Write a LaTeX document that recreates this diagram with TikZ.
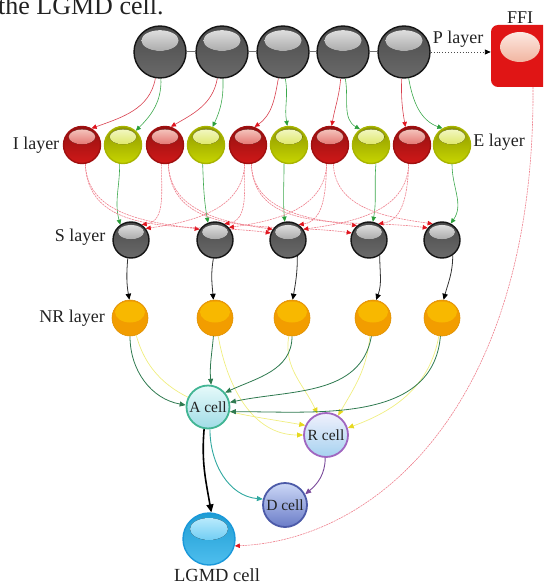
\documentclass[tikz,border=0pt]{standalone}
\usepackage{fontspec}
\setmainfont{Liberation Serif}
\usetikzlibrary{arrows.meta}
\pgfdeclarelayer{bg}
\pgfsetlayers{bg,main}

% sphere colours
\definecolor{pbody}{HTML}{6A6A6A}
\definecolor{pshine}{HTML}{E8E8E8}
\definecolor{prim}{HTML}{151515}
\definecolor{ibody}{HTML}{D01818}
\definecolor{ishine}{HTML}{F7D0C8}
\definecolor{irim}{HTML}{A01010}
\definecolor{ebody}{HTML}{C8D600}
\definecolor{eshine}{HTML}{F5F9D0}
\definecolor{erim}{HTML}{A8B400}
\definecolor{nrbody}{HTML}{F29D00}
\definecolor{nrtop}{HTML}{F8B800}
\definecolor{arim}{HTML}{42B594}
\definecolor{atop}{HTML}{E6FAFA}
\definecolor{abot}{HTML}{A0DCE6}
\definecolor{rrim}{HTML}{A066C0}
\definecolor{rtop}{HTML}{F0F0FC}
\definecolor{rbot}{HTML}{A6D2F0}
\definecolor{drim}{HTML}{4C5AA8}
\definecolor{dtop}{HTML}{CCD8F6}
\definecolor{dbot}{HTML}{6A7CC8}
\definecolor{lbody}{HTML}{22AEEA}
\definecolor{lshine}{HTML}{C8F0FE}
\definecolor{lrim}{HTML}{1A98DA}
\definecolor{ffired}{HTML}{E01515}
\definecolor{ffitop}{HTML}{FFF4F0}
\definecolor{ffibot}{HTML}{E88A6A}
% connector colours
\definecolor{linered}{HTML}{D8404E}
\definecolor{linepink}{HTML}{EE7F8C}
\definecolor{tipred}{HTML}{E0141E}
\definecolor{linegreen}{HTML}{3CA84C}
\definecolor{tipgreen}{HTML}{2A9E3A}
\definecolor{adark}{HTML}{2F7A50}
\definecolor{yline}{HTML}{F0EE80}
\definecolor{ytip}{HTML}{E6D81E}
\definecolor{tealline}{HTML}{30A8A0}
\definecolor{purpline}{HTML}{7A4A9A}
\definecolor{ink}{HTML}{222222}

\tikzset{
  glossy/.style n args={4}{circle, inner sep=0pt, minimum size=#1pt, line width=1.4pt, draw=#3,
    top color=#2!70!black, bottom color=#2,
    path picture={\fill[top color=#4, bottom color=#2]
      ([yshift=-0.28*#1pt]path picture bounding box.north)
      ellipse [x radius=0.36*#1pt, y radius=0.2*#1pt];}},
  pball/.style={glossy={52}{pbody}{prim}{pshine}},
  sball/.style={glossy={36}{pbody}{prim}{pshine}},
  iball/.style={glossy={37}{ibody}{irim}{ishine}},
  eball/.style={glossy={37}{ebody}{erim}{eshine}},
  lball/.style={circle, inner sep=0pt, minimum size=52pt, line width=1.4pt, draw=lrim,
    top color=lbody!90!black, bottom color=lbody!80!white,
    path picture={\fill[top color=lshine, bottom color=lbody]
      ([yshift=-16pt]path picture bounding box.north)
      ellipse [x radius=19pt, y radius=11pt];}},
  nrball/.style={circle, inner sep=0pt, minimum size=36pt, fill=nrbody,
    draw=nrbody!92!black, line width=.6pt,
    path picture={\fill[nrtop] ([yshift=-12pt]path picture bounding box.north)
      ellipse [x radius=15pt, y radius=10.5pt];}},
  cell/.style n args={4}{circle, inner sep=0pt, minimum size=#1pt, line width=1.8pt,
    draw=#2, top color=#3, bottom color=#4,
    font=\fontsize{15.5}{17}\selectfont, text=ink},
  lbl/.style={font=\fontsize{18}{21}\selectfont, text=ink, inner sep=0pt},
  tipR/.style={-{Triangle[length=5pt,width=4.5pt,color=tipred]}},
  exc/.style={draw=linered, line width=.6pt, tipR},
  inh/.style={draw=linepink, line width=.6pt, dash pattern=on 2pt off .8pt, tipR},
  exg/.style={draw=linegreen, line width=.6pt, -{Triangle[length=5pt,width=4.5pt,color=tipgreen]}},
  blk/.style={draw=black!80, line width=.8pt, -{Triangle[length=6pt,width=5.5pt,color=black]}},
  agr/.style={draw=adark, line width=.8pt, -{Triangle[length=6pt,width=5pt,color=adark]}},
  ylw/.style={draw=yline, line width=.7pt, -{Triangle[length=6pt,width=5pt,color=ytip]}},
}

\begin{document}
\begin{tikzpicture}[x=1pt,y=1pt]
\useasboundingbox (0,0) rectangle (543,-585);
\clip (0,0) rectangle (543,-585);

% caption line above the figure
\node[anchor=base west, inner sep=0pt, font=\fontsize{26}{30}\selectfont, text=ink] (cap) at (-2,-15) {the LGMD cell.};

% P layer
\foreach \n/\x in {1/160,2/222,3/283,4/343,5/404}
  \node[pball] (P\n) at (\x,-52) {};

% FFI cell
\node[rectangle, rounded corners=7pt, minimum width=84pt, minimum height=62pt, fill=ffired,
  path picture={\fill[top color=ffitop, bottom color=ffibot]
    ([xshift=-13pt,yshift=9pt]path picture bounding box.center)
    ellipse [x radius=20pt, y radius=15pt];}] (FFI) at (533,-56) {};
\node[lbl] (ffilbl) at (520,-18) {FFI};
\node[lbl] (plbl) at (458,-39) {P layer};

% I and E layers
\foreach \n/\x in {1/82,2/165,3/248,4/330,5/412}
  \node[iball] (I\n) at (\x,-145) {};
\foreach \n/\x in {1/123,2/206,3/289,4/371,5/452}
  \node[eball] (E\n) at (\x,-145) {};
\node[lbl] (ilbl) at (36,-145) {I layer};
\node[lbl] (elbl) at (499,-142) {E layer};

% S layer
\foreach \n/\x in {1/131,2/215,3/288,4/369,5/442}
  \node[sball] (S\n) at (\x,-240) {};
\node[lbl] (slbl) at (80,-237) {S layer};

% NR layer
\foreach \n/\x in {1/130,2/215,3/292,4/373,5/442}
  \node[nrball] (NR\n) at (\x,-318) {};
\node[lbl] (nrlbl) at (72,-318) {NR layer};

% output cells
\node[cell={43}{arim}{atop}{abot}] (A) at (208,-407) {A cell};
\node[cell={44}{rrim}{rtop}{rbot}] (R) at (326,-435) {R cell};
\node[cell={44}{drim}{dtop}{dbot}] (D) at (285,-505) {D cell};
\node[lball] (LGMD) at (209,-539) {};
\node[lbl, font=\fontsize{18.5}{21}\selectfont] (lgmdlbl) at (217,-575) {LGMD cell};

\begin{pgfonlayer}{bg}
% photoreceptor chain and its output to FFI
\draw[black!55, line width=1pt] (P1) -- (P2) -- (P3) -- (P4) -- (P5);
\draw[black!70, dotted, line width=.9pt, -{Triangle[length=6pt,width=5pt,color=black]}]
  (P5.east) -- (P5.east -| FFI.west);

% P -> I (red) and P -> E (green)
\draw[exc] (P1.-100) to[out=-100,in=20] (I1.60);
\draw[exg] (P1.-88) to[out=-88,in=45] (E1.48);
\draw[exc] (P2.-100) to[out=-100,in=30] (I2.72);
\draw[exg] (P2.-88) to[out=-88,in=65] (E2.70);
\draw[exc] (P3.-100) to[out=-100,in=35] (I3.70);
\draw[exg] (P3.-85) to[out=-80,in=100] (E3.95);
\draw[exc] (P4.-95) to[out=-95,in=80] (I4.85);
\draw[exg] (P4.-85) to[out=-80,in=150] (E4.125);
\draw[exc] (P5.-95) to[out=-92,in=100] (I5.110);
\draw[exg] (P5.-80) to[out=-80,in=160] (E5.120);

% E -> S
\draw[exg] (E1.-100) to[out=-90,in=105] (S1.125);
\draw[exg] (E2.-100) to[out=-88,in=100] (S2.112);
\draw[exg] (E3.-105) to[out=-90,in=95] (S3.100);
\draw[exg] (E4.-75) to[out=-95,in=80] (S4.78);
\draw[exg] (E5.-90) to[out=-90,in=55] (S5.62);

% I -> neighbouring S (lateral inhibition)
\foreach \k/\j/\a in {1/2/145,1/3/158,2/3/145,2/4/158,3/4/130,3/5/140,4/5/120}
  \draw[inh] (I\k.-80) to[out=-88,in=172] (S\j.\a);
\foreach \k/\j/\a in {2/1/55,3/1/38,3/2/60,4/2/42,4/3/55,5/3/35,5/4/60}
  \draw[inh] (I\k.-100) to[out=-92,in=8] (S\j.\a);

% S -> NR
\draw[blk] (S1.-100) to[out=-95,in=100] (NR1.92);
\draw[blk] (S2.-95) to[out=-100,in=95] (NR2.95);
\draw[blk] (S3.-60) to[out=-90,in=80] (NR3.88);
\draw[blk] (S4.-55) to[out=-90,in=70] (NR4.80);
\draw[blk] (S5.-55) to[out=-90,in=75] (NR5.85);

% NR -> R (yellow)
\draw[ylw] (NR1.-70) to[out=-75,in=170] (R.155);
\draw[ylw] (NR2.-80) to[out=-80,in=180] (R.180);
\draw[ylw] (NR3.-100) to[out=-100,in=115] (R.112);
\draw[ylw] (NR4.-100) to[out=-95,in=60] (R.58);
\draw[ylw] (NR5.-100) to[out=-100,in=20] (R.18);

% NR -> A (dark green)
\draw[agr] (NR1.-90) to[out=-90,in=170] (A.175);
\draw[agr] (NR2.-95) to[out=-95,in=95] (A.82);
\draw[agr] (NR3.-90) to[out=-90,in=25] (A.40);
\draw[agr] (NR4.-95) to[out=-100,in=12] (A.12);
\draw[agr] (NR5.-95) to[out=-95,in=0] (A.-12);

% A, R, D -> LGMD
\draw[black, line width=1.6pt, -{Triangle[length=8pt,width=7pt,color=black]}]
  (A.-100) to[out=-95,in=100] (LGMD.85);
\draw[tealline, line width=.9pt, -{Triangle[length=6pt,width=5pt,color=tealline]}]
  (A.-85) to[out=-90,in=175] (D.165);
\draw[purpline, line width=.9pt, -{Triangle[length=6pt,width=5pt,color=purpline]}]
  (R.-92) to[out=-90,in=40] (D.28);

% FFI -> LGMD
\draw[inh] (FFI.south) .. controls (535,-400) and (380,-540) .. (LGMD.-15);
\end{pgfonlayer}
\end{tikzpicture}
\end{document}
